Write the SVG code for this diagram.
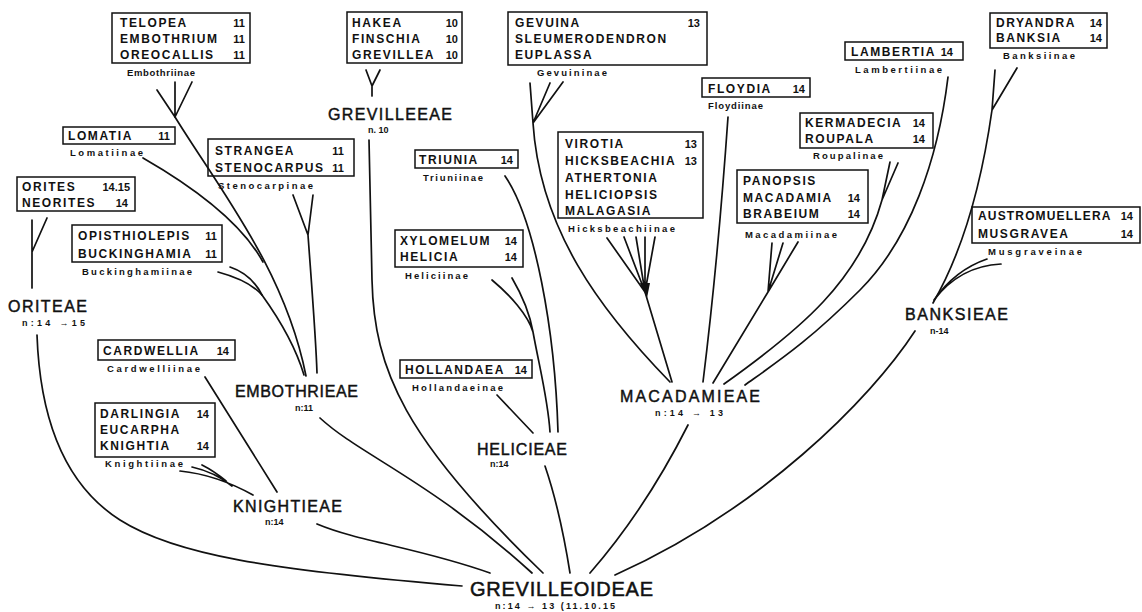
<svg xmlns="http://www.w3.org/2000/svg" width="1142" height="612" viewBox="0 0 1142 612">
<style>
.bg{fill:#fff}
.box{fill:none;stroke:#111;stroke-width:1.5}
.t{font-family:"Liberation Sans",Arial,sans-serif;font-weight:bold;font-size:12px;letter-spacing:1.6px;fill:#111}
.num{font-family:"Liberation Sans",Arial,sans-serif;font-weight:bold;font-size:11px;text-anchor:end;fill:#111}
.sub{font-family:"Liberation Sans",Arial,sans-serif;font-weight:bold;font-size:9.5px;fill:#111}
.tribe{font-family:"Liberation Sans",Arial,sans-serif;font-size:16px;fill:#111;stroke:#111;stroke-width:0.45}
.root{font-family:"Liberation Sans",Arial,sans-serif;font-size:20px;fill:#111;stroke:#111;stroke-width:0.5}
.n{font-family:"Liberation Sans",Arial,sans-serif;font-weight:bold;font-size:9px;fill:#111}
.c{fill:none;stroke:#111;stroke-width:1.7;stroke-linecap:round}
</style>
<rect class="bg" x="0" y="0" width="1142" height="612"/>

<g id="connectors">
<!-- Embothrieae -->
<path class="c" d="M157,90 L175,117 M175,82 L175,117 M192,82 L175,117"/>
<path class="c" d="M175,117 C220,190 285,270 306,376"/>
<path class="c" d="M143,158 C190,185 240,220 263,262"/>
<path class="c" d="M218,272 C240,278 255,287 262,295 C280,320 295,345 304,375"/>
<path class="c" d="M230,267 C245,272 256,283 262,295"/>
<path class="c" d="M293,195 L308,235 M313,195 L308,235 M308,235 C312,290 316,340 317,373"/>
<path class="c" d="M320,418 C360,455 430,480 532,573"/>
<!-- Oriteae -->
<path class="c" d="M32,220 L32,252 M47,218 L32,252 M32,252 L32,288"/>
<path class="c" d="M37,335 C40,420 65,485 120,520 S270,570 462,586"/>
<!-- Knightieae -->
<path class="c" d="M205,377 L277,492"/>
<path class="c" d="M180,471 C210,474 235,485 253,495 M192,467 C210,471 222,478 232,486 M202,465 C212,470 220,476 226,481"/>
<path class="c" d="M317,524 C360,542 420,548 490,573"/>
<!-- Grevilleeae -->
<path class="c" d="M366,70 L372,86 M380,70 L372,86 M372,86 L372,96"/>
<path class="c" d="M369,140 L372,280 C374,370 405,440 543,573"/>
<!-- Helicieae -->
<path class="c" d="M505,176 C535,220 555,330 558,432"/>
<path class="c" d="M492,280 C510,295 528,315 533,332 M512,278 C522,295 530,315 533,332 M533,332 C540,370 548,400 550,432"/>
<path class="c" d="M497,395 L533,433"/>
<path class="c" d="M545,466 Q560,510 570,573"/>
<!-- Macadamieae -->
<path class="c" d="M530,83 L533,123 M550,83 L533,123 M563,82 L533,123 M533,123 C540,230 600,310 670,382"/>
<path class="c" d="M607,238 L645,292 M624,237 L645,292 M636,237 L645,292 M645,237 L645,292 M655,237 L645,292 M645,292 L672,382"/>
<path d="M640,283 L650,283 L647,298 Z" fill="#111"/>
<path class="c" d="M728,117 Q718,260 703,382"/>
<path class="c" d="M772,243 L768,292 M783,243 L768,292 M798,242 L768,292 M768,292 L713,383"/>
<path class="c" d="M890,162 L882,200 M898,163 L882,200 M882,200 C860,280 800,330 724,384"/>
<path class="c" d="M948,77 C938,160 910,240 860,290 S780,360 745,385"/>
<path class="c" d="M688,425 Q645,510 590,573"/>
<!-- Banksieae -->
<path class="c" d="M995,70 L992,110 M1017,68 L992,110 M992,110 Q975,230 933,303"/>
<path class="c" d="M987,259 Q955,270 934,300 M1001,264 Q960,266 934,300"/>
<path class="c" d="M915,331 C870,400 760,510 615,575"/>
</g>

<g id="embothriinae">
<rect class="box" x="112" y="13" width="138" height="50"/>
<text class="t" x="120" y="27">TELOPEA</text><text class="num" x="245" y="27">11</text>
<text class="t" x="120" y="43">EMBOTHRIUM</text><text class="num" x="245" y="43">11</text>
<text class="t" x="120" y="59">OREOCALLIS</text><text class="num" x="245" y="59">11</text>
<text class="sub" x="127" y="76" textLength="68">Embothriinae</text>
</g>

<g id="grevilleinae">
<rect class="box" x="347" y="12" width="115" height="51"/>
<text class="t" x="352" y="27">HAKEA</text><text class="num" x="458" y="27">10</text>
<text class="t" x="352" y="43">FINSCHIA</text><text class="num" x="458" y="43">10</text>
<text class="t" x="352" y="59">GREVILLEA</text><text class="num" x="458" y="59">10</text>
</g>

<g id="gevuininae">
<rect class="box" x="508" y="12" width="199" height="53"/>
<text class="t" x="515" y="27">GEVUINA</text><text class="num" x="700" y="27">13</text>
<text class="t" x="515" y="43">SLEUMERODENDRON</text>
<text class="t" x="515" y="59">EUPLASSA</text>
<text class="sub" x="537" y="76" textLength="70">Gevuininae</text>
</g>

<g id="lomatiinae">
<rect class="box" x="63" y="127" width="112" height="17"/>
<text class="t" x="68" y="140">LOMATIA</text><text class="num" x="170" y="140">11</text>
<text class="sub" x="70" y="156" textLength="73">Lomatiinae</text>
</g>

<g id="stenocarpinae">
<rect class="box" x="208" y="139" width="146" height="37"/>
<text class="t" x="215" y="155">STRANGEA</text><text class="num" x="344" y="155">11</text>
<text class="t" x="215" y="172">STENOCARPUS</text><text class="num" x="344" y="172">11</text>
<text class="sub" x="218" y="189" textLength="95">Stenocarpinae</text>
</g>

<g id="oritinae">
<rect class="box" x="17" y="177" width="118" height="34"/>
<text class="t" x="22" y="191">ORITES</text><text class="num" x="130" y="191">14.15</text>
<text class="t" x="22" y="207">NEORITES</text><text class="num" x="128" y="207">14</text>
</g>

<g id="buckinghamiinae">
<rect class="box" x="72" y="225" width="150" height="37"/>
<text class="t" x="78" y="240">OPISTHIOLEPIS</text><text class="num" x="217" y="240">11</text>
<text class="t" x="78" y="258">BUCKINGHAMIA</text><text class="num" x="217" y="258">11</text>
<text class="sub" x="82" y="275" textLength="110">Buckinghamiinae</text>
</g>

<g id="cardwelliinae">
<rect class="box" x="98" y="340" width="137" height="20"/>
<text class="t" x="103" y="355">CARDWELLIA</text><text class="num" x="229" y="355">14</text>
<text class="sub" x="107" y="372" textLength="93">Cardwelliinae</text>
</g>

<g id="knightiinae">
<rect class="box" x="95" y="403" width="120" height="54"/>
<text class="t" x="100" y="418">DARLINGIA</text><text class="num" x="209" y="418">14</text>
<text class="t" x="100" y="434">EUCARPHA</text>
<text class="t" x="100" y="450">KNIGHTIA</text><text class="num" x="209" y="450">14</text>
<text class="sub" x="105" y="467" textLength="78">Knightiinae</text>
</g>

<g id="triuniinae">
<rect class="box" x="415" y="150" width="103" height="18"/>
<text class="t" x="419" y="164">TRIUNIA</text><text class="num" x="513" y="164">14</text>
<text class="sub" x="423" y="181" textLength="60">Triuniinae</text>
</g>

<g id="heliciinae">
<rect class="box" x="395" y="230" width="128" height="37"/>
<text class="t" x="400" y="245">XYLOMELUM</text><text class="num" x="517" y="245">14</text>
<text class="t" x="400" y="261">HELICIA</text><text class="num" x="517" y="261">14</text>
<text class="sub" x="405" y="279" textLength="63">Heliciinae</text>
</g>

<g id="hollandaeinae">
<rect class="box" x="400" y="360" width="132" height="18"/>
<text class="t" x="405" y="374">HOLLANDAEA</text><text class="num" x="527" y="374">14</text>
<text class="sub" x="412" y="391" textLength="91">Hollandaeinae</text>
</g>

<g id="hicksbeachiinae">
<rect class="box" x="558" y="132" width="145" height="86"/>
<text class="t" x="565" y="148">VIROTIA</text><text class="num" x="697" y="148">13</text>
<text class="t" x="565" y="165">HICKSBEACHIA</text><text class="num" x="697" y="165">13</text>
<text class="t" x="565" y="182">ATHERTONIA</text>
<text class="t" x="565" y="199">HELICIOPSIS</text>
<text class="t" x="565" y="215">MALAGASIA</text>
<text class="sub" x="568" y="232" textLength="107">Hicksbeachiinae</text>
</g>

<g id="floydiinae">
<rect class="box" x="702" y="78" width="108" height="19"/>
<text class="t" x="708" y="93">FLOYDIA</text><text class="num" x="805" y="93">14</text>
<text class="sub" x="708" y="109" textLength="55">Floydiinae</text>
</g>

<g id="lambertiinae">
<rect class="box" x="845" y="42" width="118" height="18"/>
<text class="t" x="851" y="56">LAMBERTIA</text><text class="num" x="953" y="56">14</text>
<text class="sub" x="855" y="73" textLength="87">Lambertiinae</text>
</g>

<g id="roupalinae">
<rect class="box" x="800" y="113" width="133" height="35"/>
<text class="t" x="805" y="127">KERMADECIA</text><text class="num" x="925" y="127">14</text>
<text class="t" x="805" y="143">ROUPALA</text><text class="num" x="925" y="143">14</text>
<text class="sub" x="813" y="159" textLength="70">Roupalinae</text>
</g>

<g id="macadamiinae">
<rect class="box" x="737" y="170" width="131" height="53"/>
<text class="t" x="743" y="185">PANOPSIS</text>
<text class="t" x="743" y="202">MACADAMIA</text><text class="num" x="860" y="202">14</text>
<text class="t" x="743" y="218">BRABEIUM</text><text class="num" x="860" y="218">14</text>
<text class="sub" x="745" y="238" textLength="92">Macadamiinae</text>
</g>

<g id="banksiinae">
<rect class="box" x="990" y="13" width="117" height="35"/>
<text class="t" x="996" y="27">DRYANDRA</text><text class="num" x="1102" y="27">14</text>
<text class="t" x="996" y="42">BANKSIA</text><text class="num" x="1102" y="42">14</text>
<text class="sub" x="1003" y="59" textLength="72">Banksiinae</text>
</g>

<g id="musgraveinae">
<rect class="box" x="972" y="207" width="168" height="36"/>
<text class="t" x="978" y="220" textLength="134">AUSTROMUELLERA</text><text class="num" x="1133" y="220">14</text>
<text class="t" x="978" y="238">MUSGRAVEA</text><text class="num" x="1133" y="238">14</text>
<text class="sub" x="988" y="255" textLength="94">Musgraveinae</text>
</g>

<g id="oriteae">
<text class="tribe" x="8" y="312" textLength="79">ORITEAE</text>
<text class="n" x="22" y="326" textLength="63">n:14 →15</text>
</g>
<g id="grevilleeae">
<text class="tribe" x="328" y="120" textLength="124">GREVILLEEAE</text>
<text class="n" x="368" y="133">n. 10</text>
</g>
<g id="embothrieae">
<text class="tribe" x="235" y="397" textLength="123">EMBOTHRIEAE</text>
<text class="n" x="295" y="411">n:11</text>
</g>
<g id="knightieae">
<text class="tribe" x="233" y="512" textLength="109">KNIGHTIEAE</text>
<text class="n" x="265" y="525">n:14</text>
</g>
<g id="helicieae">
<text class="tribe" x="477" y="455" textLength="90">HELICIEAE</text>
<text class="n" x="490" y="467">n:14</text>
</g>
<g id="macadamieae">
<text class="tribe" x="620" y="402" textLength="140">MACADAMIEAE</text>
<text class="n" x="655" y="416" textLength="68">n:14 → 13</text>
</g>
<g id="banksieae">
<text class="tribe" x="905" y="320" textLength="103">BANKSIEAE</text>
<text class="n" x="930" y="334">n-14</text>
</g>
<g id="grevilleoideae">
<text class="root" x="470" y="596" textLength="183">GREVILLEOIDEAE</text>
<text class="n" x="495" y="609" textLength="120">n:14 → 13 (11.10.15</text>
</g>
</svg>
